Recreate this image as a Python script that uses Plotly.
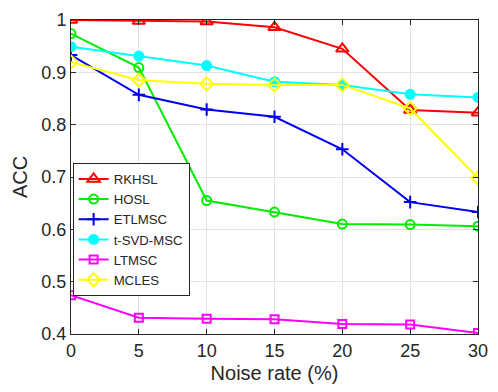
import plotly.graph_objects as go

noise = [0, 5, 10, 15, 20, 25, 30]
rkhsl = [1.000, 0.998, 0.997, 0.986, 0.945, 0.828, 0.823]
hosl = [0.974, 0.909, 0.655, 0.633, 0.610, 0.609, 0.606]
etlmsc = [0.933, 0.857, 0.829, 0.815, 0.753, 0.652, 0.633]
tsvd = [0.949, 0.931, 0.913, 0.882, 0.876, 0.858, 0.852]
ltmsc = [0.474, 0.431, 0.429, 0.428, 0.419, 0.418, 0.402]
mcles = [0.920, 0.885, 0.878, 0.876, 0.876, 0.831, 0.698]

yticks = [0.4, 0.5, 0.6, 0.7, 0.8, 0.9, 1.0]
yticktext = ["0.4", "0.5", "0.6", "0.7", "0.8", "0.9", "1"]
xticks = [0, 5, 10, 15, 20, 25, 30]

series = [
    ("RKHSL", rkhsl, "#ff0000", "triangle-up-open", 11),
    ("HOSL", hosl, "#00ee00", "circle-open", 9),
    ("ETLMSC", etlmsc, "#0000ee", "cross-thin-open", 9),
    ("t-SVD-MSC", tsvd, "#00ffff", "circle", 9),
    ("LTMSC", ltmsc, "#ff00ff", "square-open", 8),
    ("MCLES", mcles, "#ffff00", "diamond-open", 10),
]

FONT = "Liberation Sans, Arial"

fig = go.Figure()
for name, vals, col, sym, sz in series:
    fig.add_trace(go.Scatter(
        x=noise, y=vals, name=name, mode="lines+markers",
        line=dict(color=col, width=2),
        marker=dict(symbol=sym, size=sz, color=col, line=dict(color=col, width=2)),
    ))

axis_common = dict(
    showline=True, linecolor="#262626", linewidth=1, mirror="ticks",
    ticks="inside", ticklen=5, tickcolor="#262626",
    showgrid=True, gridcolor="#e3e3e3", gridwidth=1, zeroline=False,
    tickfont=dict(family=FONT, size=18, color="#262626"),
    ticklabeloverflow="allow",
)

fig.update_xaxes(range=[0, 30], tickvals=xticks,
                 title=dict(text="Noise rate (%)", font=dict(family=FONT, size=20, color="#262626"), standoff=6),
                 **axis_common)
fig.update_yaxes(range=[0.4, 1.0], tickvals=yticks, ticktext=yticktext,
                 title=dict(text="ACC", font=dict(family=FONT, size=20, color="#262626"), standoff=8),
                 **axis_common)

fig.update_layout(
    width=498, height=392,
    margin=dict(l=71, r=10, t=20, b=58),
    paper_bgcolor="white", plot_bgcolor="white",
    font=dict(family=FONT, color="#262626"),
    legend=dict(x=0.004, y=0.545, xanchor="left", yanchor="top",
                bgcolor="white", bordercolor="#262626", borderwidth=1,
                font=dict(size=13.2, color="#262626"), tracegroupgap=0,
                itemwidth=30),
    showlegend=True,
)

fig.write_html("out.html")
